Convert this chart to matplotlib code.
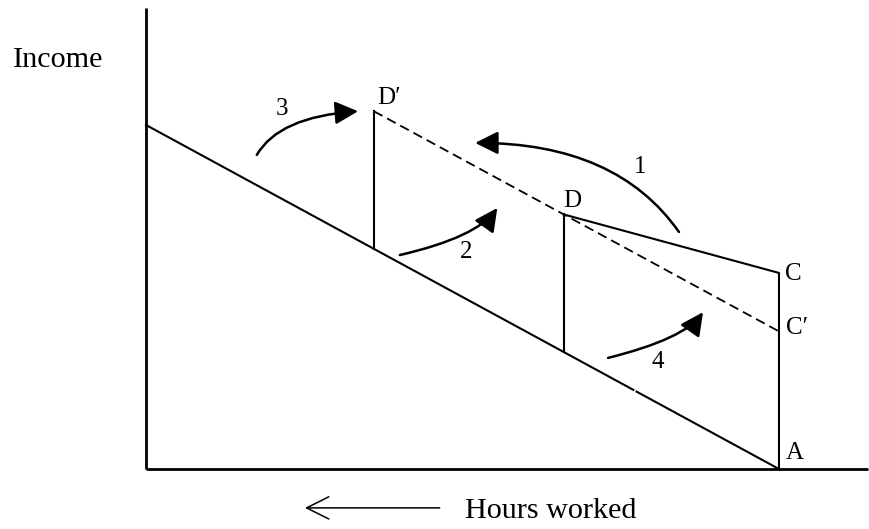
import numpy as np
import matplotlib
matplotlib.use('Agg')
import matplotlib.pyplot as plt
from matplotlib.patches import FancyArrowPatch

plt.rcParams['font.family'] = ['Liberation Serif', 'DejaVu Serif']
plt.rcParams['lines.scale_dashes'] = False

# diagram values: x = leisure (A = 100), y = income (budget intercept = 100)
budget_x = [0, 100]
budget_y = [100, 0]
budget_gap = [77.0, 77.5]          # small break in the printed budget line
pt_A = (100, 0)
pt_C = (100, 57)
pt_C2 = (100, 40)                  # C'
pt_D = (66, 74)
pt_D2 = (36, 104)                  # D'
axis_top = 134
axis_right = 114

# curved numbered arrows (tail, head, screen angle at tail, screen angle at head)
arrow_start = [(84.2, 68.9), (40.1, 62.2), (17.5, 91.3), (73.0, 32.3)]
arrow_end = [(52.0, 94.8), (55.5, 75.9), (33.5, 104.0), (88.0, 45.6)]
arrow_angA = [125, 13, 60, 14]
arrow_angB = [0, 55, 4, 55]
arrow_num = ['1', '2', '3', '4']
num_pos = [(78.0, 86.0), (50.6, 61.3), (21.5, 102.9), (80.9, 29.4)]

# point labels (left edge, baseline)
pt_labels = ['A', 'C', 'C\u2032', 'D', 'D\u2032']
pt_label_pos = [(101.1, 2.9), (101.0, 54.9), (101.1, 39.2), (65.9, 76.2), (36.5, 106.1)]

fig = plt.figure(figsize=(8.69, 5.29), dpi=100)
ax = fig.add_axes([0, 0, 1, 1])
ax.set_xlim(-23.07, 114.22)
ax.set_ylim(-17.44, 136.34)
ax.axis('off')

# axes of the diagram
ax.plot([0, 0], [0, axis_top], color='black', lw=2.0, solid_capstyle='butt')
ax.plot([0, axis_right], [0, 0], color='black', lw=2.0, solid_capstyle='butt')

# budget line with its little break
bx1 = np.array([budget_x[0], budget_gap[0]])
bx2 = np.array([budget_gap[1], budget_x[1]])
ax.plot(bx1, np.interp(bx1, budget_x, budget_y), color='black', lw=1.5)
ax.plot(bx2, np.interp(bx2, budget_x, budget_y), color='black', lw=1.5)

# kinked budget  D - C - A
ax.plot([pt_D[0], pt_C[0], pt_A[0]], [pt_D[1], pt_C[1], pt_A[1]], color='black', lw=1.5)

# verticals from D and D' down to the budget line
for p in [pt_D, pt_D2]:
    base = np.interp(p[0], budget_x, budget_y)
    ax.plot([p[0], p[0]], [p[1], base], color='black', lw=1.5)

# new (dashed) budget line D' - C'
ax.plot([pt_D2[0], pt_C2[0]], [pt_D2[1], pt_C2[1]], color='black', lw=1.3,
        dashes=(7, 3.8))

for s, e, a1, a2 in zip(arrow_start, arrow_end, arrow_angA, arrow_angB):
    arr = FancyArrowPatch(s, e, connectionstyle='angle3,angleA=%s,angleB=%s' % (a1, a2),
                          arrowstyle='-|>,head_length=14,head_width=7',
                          mutation_scale=1, lw=1.8, color='black',
                          shrinkA=0, shrinkB=0)
    ax.add_patch(arr)

for t, p in zip(arrow_num, num_pos):
    ax.text(p[0], p[1], t, fontsize=18, ha='center', va='baseline')

for t, p in zip(pt_labels, pt_label_pos):
    ax.text(p[0], p[1], t, fontsize=18, ha='left', va='baseline')

ax.text(-21.0, 116.9, 'Income', fontsize=21.7, ha='left', va='baseline')
ax.text(50.4, -14.2, 'Hours worked', fontsize=21.7, ha='left', va='baseline')
ax.add_patch(FancyArrowPatch((46.4, -11.3), (25.1, -11.3),
                             arrowstyle='->,head_length=16,head_width=8',
                             mutation_scale=1, lw=1.1, color='black',
                             shrinkA=0, shrinkB=0))

fig.savefig('out.png', dpi=100)
